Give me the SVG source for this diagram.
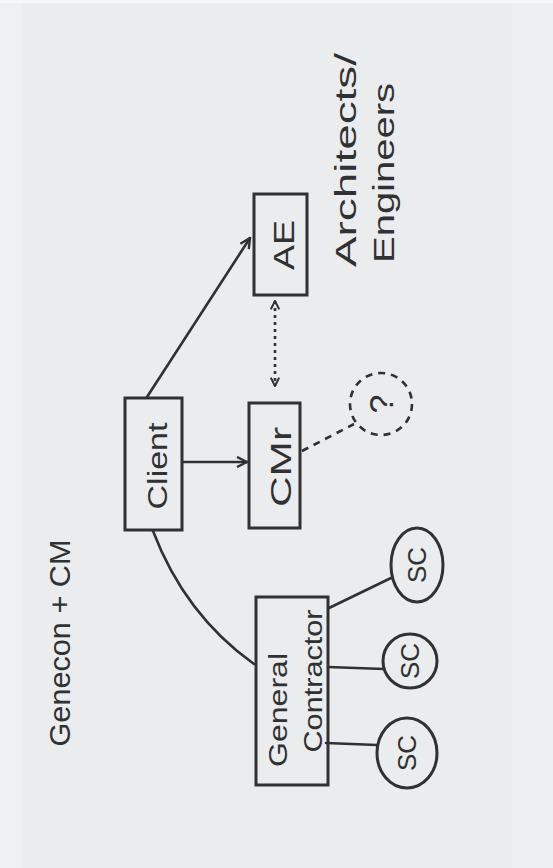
<svg xmlns="http://www.w3.org/2000/svg" width="553" height="868" viewBox="0 0 553 868">
<style>
.box{fill:none;stroke:#2f3133;stroke-width:3}
.ln{fill:none;stroke:#2f3133;stroke-width:2.6;stroke-linecap:round}
.dash{fill:none;stroke:#2f3133;stroke-width:2.6;stroke-dasharray:7 6}
.dot{fill:none;stroke:#2f3133;stroke-width:2.6;stroke-dasharray:3 4}
text{font-family:"Liberation Sans",Arial,sans-serif;fill:#2f3133;text-anchor:middle}
</style>
<defs>
<marker id="ah" viewBox="0 0 12 12" refX="11" refY="6" markerWidth="12" markerHeight="12" markerUnits="userSpaceOnUse" orient="auto-start-reverse">
<path d="M1,1 L11,6 L1,11" fill="none" stroke="#2f3133" stroke-width="2.4"/>
</marker>
<marker id="ahs" viewBox="0 0 12 12" refX="11" refY="6" markerWidth="10" markerHeight="10" markerUnits="userSpaceOnUse" orient="auto-start-reverse">
<path d="M1,1 L11,6 L1,11" fill="none" stroke="#2f3133" stroke-width="2.4"/>
</marker>
</defs>
<rect x="0" y="0" width="553" height="868" fill="#eaeced"/>
<rect x="0" y="0" width="22" height="868" fill="#eff0f1"/>
<rect x="512" y="0" width="41" height="868" fill="#edeff0"/>
<rect x="0" y="0" width="553" height="3" fill="#f7f8f8"/>

<g id="title">
<text transform="translate(70,643) rotate(-90)" font-size="30" textLength="207" lengthAdjust="spacingAndGlyphs">Genecon + CM</text>
</g>

<g id="connectors">
<line class="ln" x1="182" y1="462" x2="247" y2="462" marker-end="url(#ah)"/>
<path class="ln" d="M147,397 L250,238" marker-end="url(#ah)"/>
<path class="ln" d="M153,531 Q185,615 254,664"/>
<line class="dot" x1="275" y1="301" x2="275" y2="386" marker-start="url(#ahs)" marker-end="url(#ahs)"/>
<line class="dash" x1="302" y1="451" x2="354" y2="424"/>
<line class="ln" x1="329" y1="608" x2="391" y2="578"/>
<line class="ln" x1="328" y1="667" x2="384" y2="669"/>
<line class="ln" x1="326" y1="743" x2="377" y2="745"/>
</g>

<g id="ae">
<rect class="box" x="254" y="194" width="53" height="101"/>
<text transform="translate(294,245) rotate(-90)" font-size="29" textLength="50" lengthAdjust="spacingAndGlyphs">AE</text>
</g>
<g id="ae-label">
<text transform="translate(356,160) rotate(-90)" font-size="30" textLength="214" lengthAdjust="spacingAndGlyphs">Architects/</text>
<text transform="translate(394,173) rotate(-90)" font-size="30" textLength="180" lengthAdjust="spacingAndGlyphs">Engineers</text>
</g>
<g id="client">
<rect class="box" x="125" y="398" width="57" height="132"/>
<text transform="translate(167,466) rotate(-90)" font-size="27" textLength="87" lengthAdjust="spacingAndGlyphs">Client</text>
</g>
<g id="cmr">
<rect class="box" x="249" y="403" width="51" height="125"/>
<text transform="translate(291,467) rotate(-90)" font-size="29" textLength="80" lengthAdjust="spacingAndGlyphs">CMr</text>
</g>
<g id="question">
<circle class="dash" cx="381" cy="404" r="31"/>
<text transform="translate(393,404) rotate(-90)" font-size="34">?</text>
</g>
<g id="gc">
<rect class="box" x="256" y="597" width="72" height="188"/>
<text transform="translate(287,710) rotate(-90)" font-size="26" textLength="114" lengthAdjust="spacingAndGlyphs">General</text>
<text transform="translate(322,681) rotate(-90)" font-size="26" textLength="143" lengthAdjust="spacingAndGlyphs">Contractor</text>
</g>
<g id="sc1">
<ellipse class="box" cx="417" cy="565" rx="26" ry="37"/>
<text transform="translate(426,565) rotate(-90)" font-size="26">SC</text>
</g>
<g id="sc2">
<ellipse class="box" cx="410" cy="661" rx="27" ry="27"/>
<text transform="translate(419,661) rotate(-90)" font-size="26">SC</text>
</g>
<g id="sc3">
<ellipse class="box" cx="407" cy="753" rx="30" ry="35"/>
<text transform="translate(416,753) rotate(-90)" font-size="26">SC</text>
</g>
</svg>
